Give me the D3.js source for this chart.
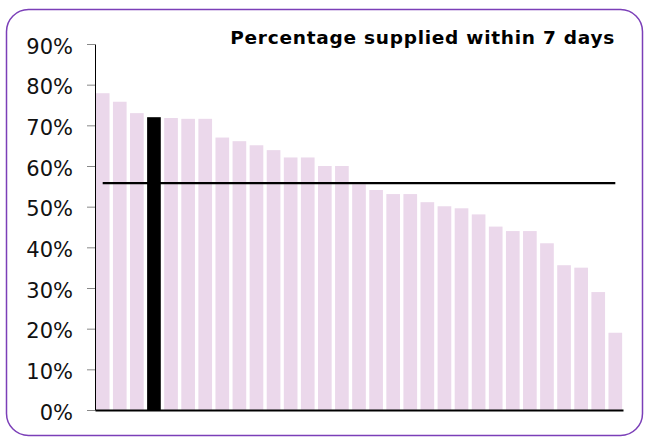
<!DOCTYPE html>
<html><head><meta charset="utf-8">
<script src="https://cdn.jsdelivr.net/npm/d3@7"></script>
<style>body{margin:0;background:#fff}svg{display:block}</style>
</head><body><svg id="c" width="647" height="439"></svg>
<script>
const categories = ["1","2","3","4","5","6","7","8","9","10","11","12","13","14","15","16","17","18","19","20","21","22","23","24","25","26","27","28","29","30","31"];
const values = [77.9,75.8,73.0,72.0,71.8,71.6,71.6,67.0,66.1,65.1,63.9,62.1,62.1,60.0,60.0,55.5,54.1,53.1,53.1,51.1,50.1,49.6,48.1,45.1,44.0,44.0,41.0,35.6,35.0,29.0,19.0];
const highlighted = ["4"];
const averageValue = 55.8;
const yTicks = [0,10,20,30,40,50,60,70,80,90];
const title = "Percentage supplied within 7 days";

const svg = d3.select("#c");
const plotLeft = 95, plotRight = 623, plotTop = 44, plotBottom = 410;

svg.append("rect").attr("x",6.5).attr("y",9.5).attr("width",636).attr("height",426)
  .attr("rx",22).attr("ry",22).attr("fill","#fff").attr("stroke","#7b3fb8").attr("stroke-width",1.5);

const x = d3.scaleBand().domain(categories).range([plotLeft,plotRight]).paddingInner(0.2).paddingOuter(0.05);
const y = d3.scaleLinear().domain([0,90]).range([plotBottom,plotTop]);

svg.append("g").selectAll("rect").data(values).join("rect")
  .attr("x",(d,i)=>x(categories[i]))
  .attr("y",d=>y(d))
  .attr("width",x.bandwidth())
  .attr("height",d=>y(0)-y(d))
  .attr("fill",(d,i)=>highlighted.includes(categories[i])?"#000":"#ebd8eb");

// average line
svg.append("line")
  .attr("x1",x(categories[0])+x.bandwidth()/2)
  .attr("x2",x(categories[categories.length-1])+x.bandwidth()/2)
  .attr("y1",y(averageValue)).attr("y2",y(averageValue))
  .attr("stroke","#000").attr("stroke-width",2.2);

const yAxis = d3.axisLeft(y).tickValues(yTicks).tickFormat(d=>d+"%").tickSize(8).tickSizeOuter(0).tickPadding(14);
const gy = svg.append("g").attr("transform",`translate(${plotLeft},0)`).call(yAxis);
gy.select(".domain").attr("stroke","#000").attr("stroke-width",1);
gy.selectAll(".tick line").attr("stroke","#888");
gy.selectAll(".tick text").attr("font-family","'DejaVu Sans', Verdana, sans-serif").attr("font-size",21)
  .attr("dy","0.44em").attr("fill","#111");

const xAxis = d3.axisBottom(x).tickValues([]).tickSizeOuter(0);
const gx = svg.append("g").attr("transform",`translate(0,${plotBottom})`).call(xAxis);
gx.select(".domain").attr("stroke","#000").attr("stroke-width",2);

svg.append("text").attr("x",615).attr("y",43.5).attr("text-anchor","end")
  .attr("font-family","'DejaVu Sans', Verdana, sans-serif").attr("font-weight","bold")
  .attr("font-size",18.5).attr("letter-spacing",0.75).attr("fill","#000").text(title);
</script>
</body></html>
